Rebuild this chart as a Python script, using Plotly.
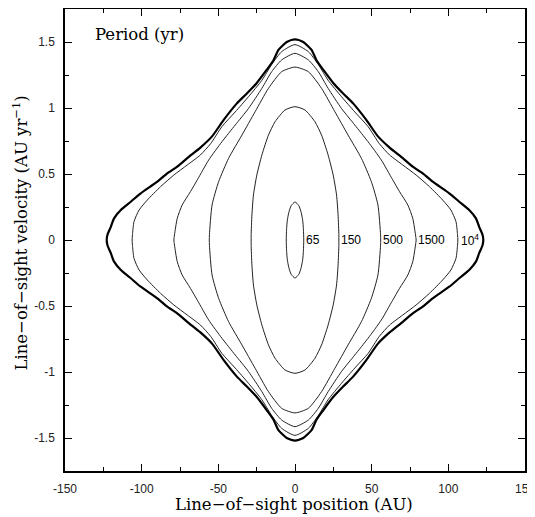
import plotly.graph_objects as go

# Quarter-curves (x >= 0, v >= 0), from the top (x=0) down to v=0.
# Full closed contours are formed by mirroring about both axes.
outer_x = [0, 5.4, 10.8, 14.1, 18.4, 24.9, 31.4, 37.9, 46.5, 54.1, 61.7, 70.3, 76.8, 83.3, 89.8, 100.6, 107.1, 113.6, 118.0, 120.1, 122.3, 122.8]
outer_v = [1.52, 1.50, 1.44, 1.36, 1.29, 1.19, 1.11, 1.035, 0.91, 0.785, 0.70, 0.62, 0.556, 0.505, 0.442, 0.354, 0.29, 0.227, 0.164, 0.10, 0.04, 0.0]

p1e4_x = [0, 8.7, 15.2, 21.6, 30.3, 39.0, 47.6, 55.0, 61.7, 70.3, 79.0, 87.7, 96.3, 101.7, 105.0, 106.0, 106.2]
p1e4_v = [1.48, 1.427, 1.33, 1.21, 1.086, 0.97, 0.86, 0.73, 0.644, 0.568, 0.492, 0.404, 0.303, 0.227, 0.139, 0.04, 0.0]

p1500_x = [0, 8.7, 15.2, 21.6, 30.3, 39.0, 47.6, 56.3, 63.5, 68.2, 73.6, 76.8, 78.6, 79.0]
p1500_v = [1.414, 1.364, 1.275, 1.149, 0.997, 0.871, 0.745, 0.606, 0.46, 0.366, 0.265, 0.164, 0.038, 0.0]

p500_x = [0, 8.7, 17.3, 26.0, 34.6, 43.3, 49.8, 54.1, 55.8, 55.9]
p500_v = [1.31, 1.275, 1.149, 0.972, 0.795, 0.619, 0.442, 0.265, 0.04, 0.0]

p150_x = [0, 6.5, 13.0, 17.3, 21.6, 24.9, 27.1, 28.1, 28.6, 28.6]
p150_v = [1.01, 0.985, 0.896, 0.795, 0.644, 0.492, 0.341, 0.189, 0.04, 0.0]

p65_x = [0, 2.5, 4.0, 5.0, 5.5, 5.7]
p65_v = [0.288, 0.26, 0.21, 0.15, 0.08, 0.0]

labels = ["65", "150", "500", "1500", "10<sup>4</sup>"]
label_x = [7.1, 29.9, 57.4, 80.0, 108.2]

x_ticks = [-150, -100, -50, 0, 50, 100, 150]
x_ticktext = ["-150", "-100", "-50", "0", "50", "100", "150"]
y_ticks = [-1.5, -1, -0.5, 0, 0.5, 1, 1.5]
y_ticktext = ["-1.5", "-1", "-0.5", "0", "0.5", "1", "1.5"]


def closed(qx, qv):
    # right-top, right-bottom, left-bottom, left-top
    xs = list(qx) + [x for x in reversed(qx)][1:] + [-x for x in qx][1:] + [-x for x in reversed(qx)][1:]
    vs = list(qv) + [-v for v in reversed(qv)][1:] + [-v for v in qv][1:] + [v for v in reversed(qv)][1:]
    return xs, vs


fig = go.Figure()
curves = [
    (p65_x, p65_v, 1.0, "#222"),
    (p150_x, p150_v, 1.0, "#222"),
    (p500_x, p500_v, 1.0, "#222"),
    (p1500_x, p1500_v, 1.0, "#222"),
    (p1e4_x, p1e4_v, 1.0, "#222"),
    (outer_x, outer_v, 2.2, "#000"),
]
for qx, qv, w, c in curves:
    xs, vs = closed(qx, qv)
    fig.add_trace(go.Scatter(x=xs, y=vs, mode="lines",
                             line=dict(color=c, width=w, shape="spline", smoothing=0.6),
                             hoverinfo="skip", showlegend=False))

for t, lx in zip(labels, label_x):
    fig.add_annotation(x=lx, y=0, text=t, showarrow=False, xanchor="left", yanchor="middle",
                       xshift=-2, font=dict(family="Liberation Sans, Arial", size=12, color="#000"))

fig.add_annotation(x=-132, y=1.555, text="Period (yr)", showarrow=False, xanchor="left", yanchor="middle",
                   font=dict(family="DejaVu Serif", size=16.5, color="#000"))

fig.add_annotation(xref="paper", yref="paper", x=0.497, y=-0.073, text="Line\u2212of\u2212sight position (AU)",
                   showarrow=False, xanchor="center", yanchor="middle",
                   font=dict(family="DejaVu Serif", size=16.5, color="#000"))
fig.add_annotation(xref="paper", yref="paper", x=-0.098, y=0.516,
                   text="Line\u2212of\u2212sight velocity (AU yr<sup>\u22121</sup>)",
                   textangle=-90, showarrow=False, xanchor="center", yanchor="middle",
                   font=dict(family="DejaVu Serif", size=16.5, color="#000"))

axis_common = dict(showgrid=False, zeroline=False, showline=True, linecolor="#000", linewidth=1.5,
                   mirror="allticks", ticks="inside", ticklen=7, tickwidth=1, tickcolor="#000",
                   automargin=False, ticklabeloverflow="allow",
                   tickfont=dict(family="Liberation Sans, Arial", size=12, color="#222"))

fig.update_xaxes(range=[-150, 150], tickmode="array", tickvals=x_ticks, ticktext=x_ticktext,
                 minor=dict(ticks="inside", ticklen=4, dtick=25, tick0=0, tickcolor="#000", showgrid=False),
                 ticklabelstandoff=6, **axis_common)
fig.update_yaxes(range=[-1.75, 1.75], tickmode="array", tickvals=y_ticks, ticktext=y_ticktext,
                 minor=dict(ticks="inside", ticklen=4, dtick=0.25, tick0=0, tickcolor="#000", showgrid=False),
                 ticklabelstandoff=6, **axis_common)

# page body adds an 8px offset; figure is sized so it ends at the window edge
fig.update_layout(width=527, height=509, margin=dict(l=57, r=10, t=1, b=46),
                  plot_bgcolor="white", paper_bgcolor="white")

fig.write_html("out.html")
